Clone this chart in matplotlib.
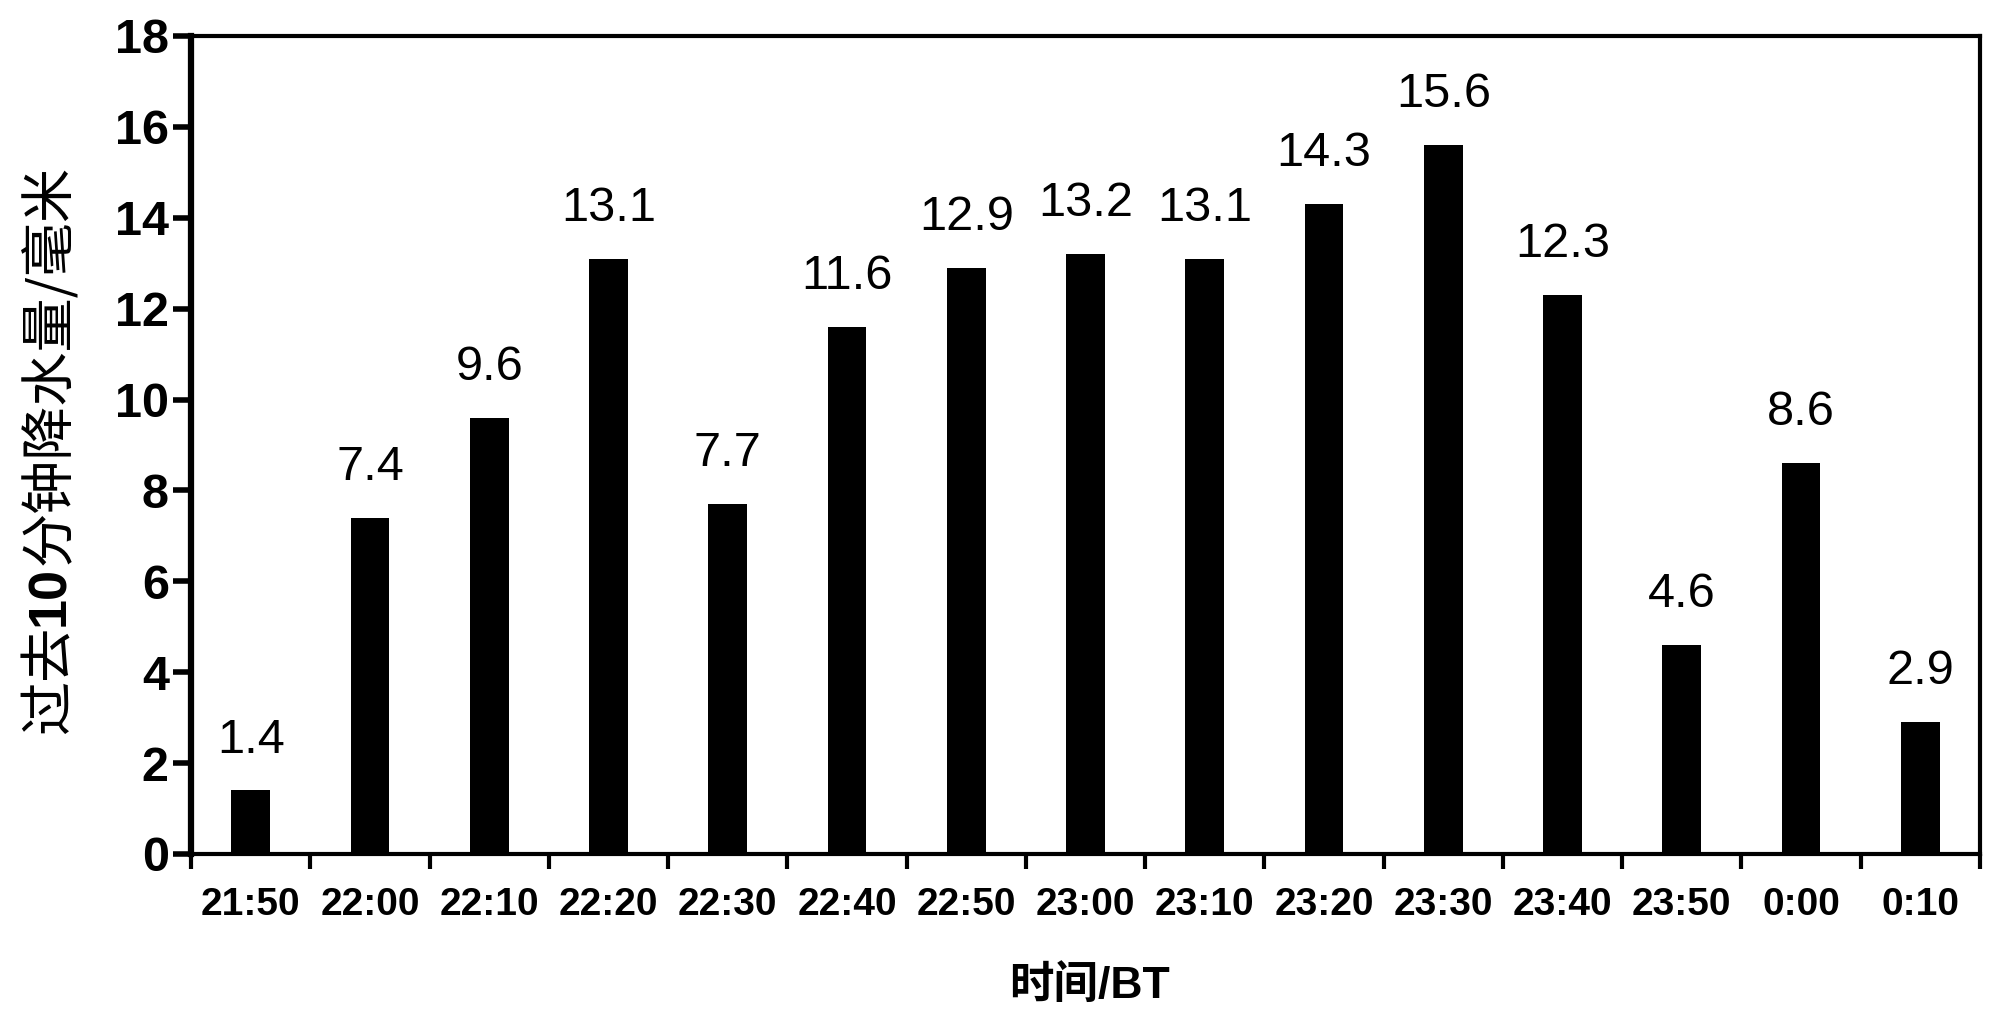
import matplotlib
matplotlib.use("Agg")
import matplotlib.pyplot as plt
import numpy as np

times = ["21:50", "22:00", "22:10", "22:20", "22:30", "22:40", "22:50", "23:00",
         "23:10", "23:20", "23:30", "23:40", "23:50", "0:00", "0:10"]
rain = [1.4, 7.4, 9.6, 13.1, 7.7, 11.6, 12.9, 13.2, 13.1, 14.3, 15.6, 12.3, 4.6, 8.6, 2.9]
yticks = [0, 2, 4, 6, 8, 10, 12, 14, 16, 18]

LAT = "Liberation Sans"
CJK = "Noto Sans CJK SC"

fig = plt.figure(figsize=(20, 10.13), dpi=100)
ax = fig.add_axes([0.0955, 0.157, 0.8945, 0.8075])

x = np.arange(len(times))
ax.bar(x, rain, width=0.325, color="black", zorder=3)

for xi, v in zip(x, rain):
    ax.annotate(f"{v:.1f}", (xi, v), xytext=(0, 20), textcoords="offset points",
                ha="center", va="bottom", fontsize=35, family=[LAT, CJK])

ax.set_xlim(-0.5, len(times) - 0.5)
ax.set_ylim(0, 18)
ax.set_yticks(yticks)
ax.set_yticklabels([str(t) for t in yticks], fontsize=35, fontweight="bold", family=[LAT])

ax.set_xticks(np.arange(-0.5, len(times), 1.0))
ax.set_xticklabels([])
ax.set_xticks(x, minor=True)
ax.set_xticklabels(times, minor=True, fontsize=28, fontweight="bold", family=[LAT])
ax.tick_params(axis="x", which="major", direction="out", length=11, width=3)
ax.tick_params(axis="x", which="minor", length=0, pad=24)
ax.tick_params(axis="y", direction="out", length=13, width=4, pad=3)

ax.spines["left"].set_linewidth(4.5)
ax.spines["bottom"].set_linewidth(3)
ax.spines["top"].set_linewidth(3)
ax.spines["right"].set_linewidth(3)

# x label
fig.text(1089 / 2000, 1 - 986 / 1013, "时间/BT", ha="center", va="center",
         fontsize=32, fontweight="bold", family=[LAT, CJK])

# y label composed of pieces (CJK regular, "10" bold)
fig.canvas.draw()
renderer = fig.canvas.get_renderer()
pieces = [("过去", "normal", [CJK]), ("10", "bold", [LAT]), ("分钟降水量/毫米", "normal", [CJK])]
objs = []
total = 0
for s, w, fam in pieces:
    t = fig.text(0, 0, s, rotation=90, fontsize=39, fontweight=w, family=fam,
                 ha="center", va="bottom", transform=None)
    bb = t.get_window_extent(renderer)
    objs.append((t, bb.height))
    total += bb.height
xc = 50
ycenter = (1013 - (166 + 733) / 2)
y0 = ycenter - total / 2
for t, h in objs:
    t.set_position((xc, y0))
    y0 += h

fig.savefig("out.png", dpi=100, facecolor="white")
